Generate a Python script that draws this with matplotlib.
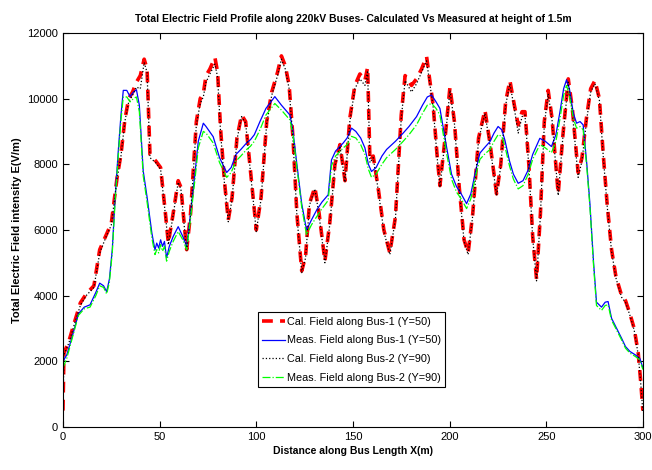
import numpy as np
import matplotlib
matplotlib.use("Agg")
import matplotlib.pyplot as plt

plt.rcParams['font.family'] = ['Liberation Sans', 'DejaVu Sans']

# 计算值 (Cal) 的距离坐标
x_cal = [0, 0.5, 3, 6, 9, 12, 16, 19, 22, 25, 28, 30, 32, 34, 36, 38, 40, 42, 43.5, 45,
         48, 50.5, 53, 54.5, 57, 59.6, 61, 63, 64, 66, 69, 71, 72.6, 74, 76, 78.6, 80, 81.5,
         83.5, 85.5, 87.5, 90, 92.4, 94.5, 97, 100, 102.5, 105.4, 108, 111, 113, 115, 117,
         119, 121, 123.5, 125.5, 127.5, 130.3, 132.5, 135.5, 138, 140.7, 143.3, 145.9, 148.4,
         151, 153.6, 156.2, 157.6, 158.8, 160.5, 163, 166, 169.1, 172, 175, 177, 180.3, 182.9,
         185.5, 188.1, 191.5, 193.5, 195, 197.5, 200.2, 202.5, 205, 207.5, 209.6, 212, 215,
         218.3, 221, 224.3, 226.5, 229, 231.2, 233.5, 235.5, 237.5, 239, 241, 243, 245, 247,
         249, 251, 253, 256.2, 258.5, 261.4, 263.5, 266.5, 268.5, 270.8, 273, 275.2, 277.5,
         279.5, 281.5, 283.8, 286, 289, 291, 293.3, 295.5, 297.6, 299, 300]

cal_bus1 = [500, 2250, 2600, 3200, 3780, 4050, 4300, 5400, 5800, 6200, 7600, 8300, 9350, 10000,
            10200, 10500, 10700, 11200, 10900, 8300, 8100, 7900, 6500, 5600, 6500, 7500, 7300,
            6000, 5400, 6500, 9300, 10000, 10150, 10700, 10900, 11250, 10800, 9100, 7500, 6300,
            7000, 8800, 9500, 9300, 7800, 6000, 7000, 9300, 10200, 10800, 11300, 11000, 10400,
            8800, 6500, 4750, 5200, 6800, 7300, 6500, 5050, 6200, 8000, 8600, 7500, 9400, 10400,
            10750, 10550, 10950, 8100, 8250, 7300, 6000, 5300, 6400, 9500, 10700, 10400, 10600,
            10900, 11280, 9800, 8300, 7350, 8700, 10350, 9300, 7300, 5700, 5300, 6500, 8800,
            9650, 8600, 7100, 8000, 9900, 10550, 9800, 9200, 9600, 9600, 8000, 5800, 4500, 6500,
            9300, 10250, 9400, 7100, 8800, 10600, 9700, 7750, 8200, 9400, 10300, 10550, 10000,
            8300, 6800, 5400, 4600, 4000, 3850, 3450, 3000, 2250, 1300, 500]

cal_bus2 = [500, 2200, 2550, 3150, 3700, 4000, 4250, 5300, 5750, 6150, 7550, 8250, 9300, 9900,
            10100, 10350, 10300, 11100, 10800, 8200, 8050, 7850, 6450, 5550, 6450, 7450, 7250,
            5950, 5350, 6450, 9200, 9850, 10050, 10500, 10750, 11050, 10650, 9000, 7450, 6250,
            6950, 8750, 9450, 9250, 7750, 5950, 6950, 9250, 10100, 10700, 11200, 10900, 10300,
            8750, 6450, 4700, 5150, 6750, 7250, 6450, 5000, 6150, 7950, 8550, 7450, 9300, 10300,
            10600, 10400, 10850, 8050, 8200, 7250, 5950, 5250, 6350, 9400, 10550, 10200, 10450,
            10800, 11150, 9750, 8250, 7300, 8650, 10250, 9250, 7250, 5650, 5250, 6450, 8750,
            9550, 8550, 7050, 7950, 9800, 10450, 9700, 8950, 9450, 9500, 7950, 5750, 4450, 6450,
            9200, 10150, 9350, 7050, 8750, 10500, 9600, 7600, 8100, 9300, 10200, 10450, 9950,
            8250, 6750, 5350, 4550, 3950, 3800, 3400, 2950, 2200, 1250, 450]

# 测量值 (Meas) 的距离坐标
x_meas = [0, 2, 5, 8, 11, 14, 17, 19, 21, 22.6, 24, 25.5, 27, 28.6, 30, 31.2, 33, 34.7, 36.5,
          38, 39.5, 41.5, 43.5, 46, 47.6, 48.5, 49.5, 50.5, 51.5, 52.5, 53.6, 55, 57, 59.6, 62,
          64, 66, 68.3, 70, 72.6, 74, 77.7, 81, 84.7, 87, 89.5, 92, 95, 97, 99, 101.9, 105,
          109.6, 113, 117.4, 119, 121, 123.5, 126, 128.5, 131.2, 134, 137.2, 138.9, 141, 145,
          147, 149.3, 151.5, 154, 156.2, 158, 159.6, 162, 165, 167.4, 172, 176, 179, 182.9,
          186, 188.5, 190.7, 193, 195, 198.4, 201, 203.6, 206, 208.8, 211, 213.5, 215.7, 218,
          220.9, 223, 225.1, 227, 228.6, 231, 233, 235.5, 238, 240.7, 243, 246.7, 249.5, 252.7,
          255, 257, 259, 260.5, 262, 264, 265.7, 267.5, 269.1, 271, 272.6, 274.5, 276, 278.6,
          280.5, 282, 283.8, 286, 289, 291, 293.3, 296, 298.4, 300]

meas_bus1 = [2000, 2200, 2800, 3450, 3650, 3720, 4100, 4380, 4300, 4120, 4500, 5400, 7000, 8400,
             9500, 10250, 10250, 10060, 10200, 10270, 9800, 7800, 7000, 5900, 5390, 5600, 5450,
             5700, 5500, 5650, 5150, 5500, 5800, 6100, 5800, 5500, 6500, 7730, 8700, 9250, 9150,
             8840, 8200, 7750, 7900, 8300, 8450, 8650, 8750, 8900, 9300, 9700, 10060, 9800, 9500,
             9000, 8000, 6800, 6000, 6300, 6600, 6850, 7070, 8130, 8400, 8650, 8800, 9100, 9000,
             8800, 8500, 8000, 7780, 7900, 8250, 8450, 8700, 8950, 9150, 9450, 9800, 10050, 10110,
             9900, 9700, 8540, 7700, 7320, 7100, 6800, 7100, 7800, 8340, 8500, 8690, 8950, 9150,
             9050, 8740, 8100, 7700, 7420, 7500, 7830, 8300, 8790, 8700, 8540, 8900, 9560, 10300,
             10570, 10300, 9560, 9250, 9300, 9200, 8000, 6800, 5000, 3800, 3650, 3800, 3820,
             3310, 3050, 2700, 2450, 2300, 2200, 2090, 1800]

meas_bus2 = [1800, 2100, 2750, 3400, 3600, 3650, 4000, 4300, 4250, 4050, 4400, 5300, 6900, 8250,
             9350, 10050, 10050, 9900, 10000, 10050, 9600, 7650, 6850, 5750, 5250, 5400, 5300,
             5550, 5350, 5500, 5050, 5350, 5650, 5950, 5700, 5400, 6350, 7550, 8500, 9000, 8950,
             8650, 8050, 7600, 7750, 8100, 8250, 8450, 8550, 8700, 9050, 9500, 9850, 9650, 9350,
             8900, 7900, 6700, 5850, 6150, 6400, 6650, 6900, 7950, 8250, 8500, 8600, 8850, 8800,
             8600, 8300, 7850, 7600, 7700, 8000, 8200, 8450, 8700, 8900, 9200, 9550, 9800, 9850,
             9700, 9500, 8350, 7550, 7150, 6950, 6650, 6950, 7650, 8150, 8300, 8450, 8700, 8900,
             8850, 8550, 7950, 7550, 7250, 7350, 7700, 8150, 8600, 8500, 8350, 8700, 9350, 10100,
             10400, 10100, 9400, 9100, 9150, 9050, 7900, 6700, 4900, 3700, 3550, 3700, 3720,
             3250, 3000, 2650, 2400, 2250, 2150, 2050, 1750]

fig = plt.figure(figsize=(6.52, 4.70), dpi=100)
ax = fig.add_axes([0.0966, 0.0915, 0.8894, 0.8385])

ax.plot(x_cal, cal_bus1, color='#ff0000', linestyle='--', linewidth=2.6, dashes=(3, 2),
        label='Cal. Field along Bus-1 (Y=50)')
ax.plot(x_meas, meas_bus1, color='#0000ff', linestyle='-', linewidth=0.9,
        label='Meas. Field along Bus-1 (Y=50)')
ax.plot(x_cal, cal_bus2, color='black', linestyle=':', linewidth=0.9,
        label='Cal. Field along Bus-2 (Y=90)')
ax.plot(x_meas, meas_bus2, color='#00ff00', linestyle='-.', linewidth=0.9,
        label='Meas. Field along Bus-2 (Y=90)')

ax.set_xlim(0, 300)
ax.set_ylim(0, 12000)
ax.set_xticks(np.arange(0, 301, 50))
ax.set_yticks(np.arange(0, 12001, 2000))
ax.tick_params(direction='in', top=True, right=True, labelsize=8, length=4)

ax.set_title('Total Electric Field Profile along 220kV Buses- Calculated Vs Measured at height of 1.5m',
             fontsize=7.5, fontweight='bold', pad=8)
ax.set_xlabel('Distance along Bus Length X(m)', fontsize=7.5, fontweight='bold', labelpad=3)
ax.set_ylabel('Total Electric Field intensity E(V/m)', fontsize=8, fontweight='bold', labelpad=4)

leg = ax.legend(loc='lower left', bbox_to_anchor=(0.336, 0.1015), fontsize=7.8, fancybox=False,
                edgecolor='black', framealpha=1, handlelength=2.1, handletextpad=0.15,
                borderpad=0.4, labelspacing=0.8, borderaxespad=0)
leg.get_frame().set_linewidth(0.8)

plt.savefig('out.png', dpi=100)
